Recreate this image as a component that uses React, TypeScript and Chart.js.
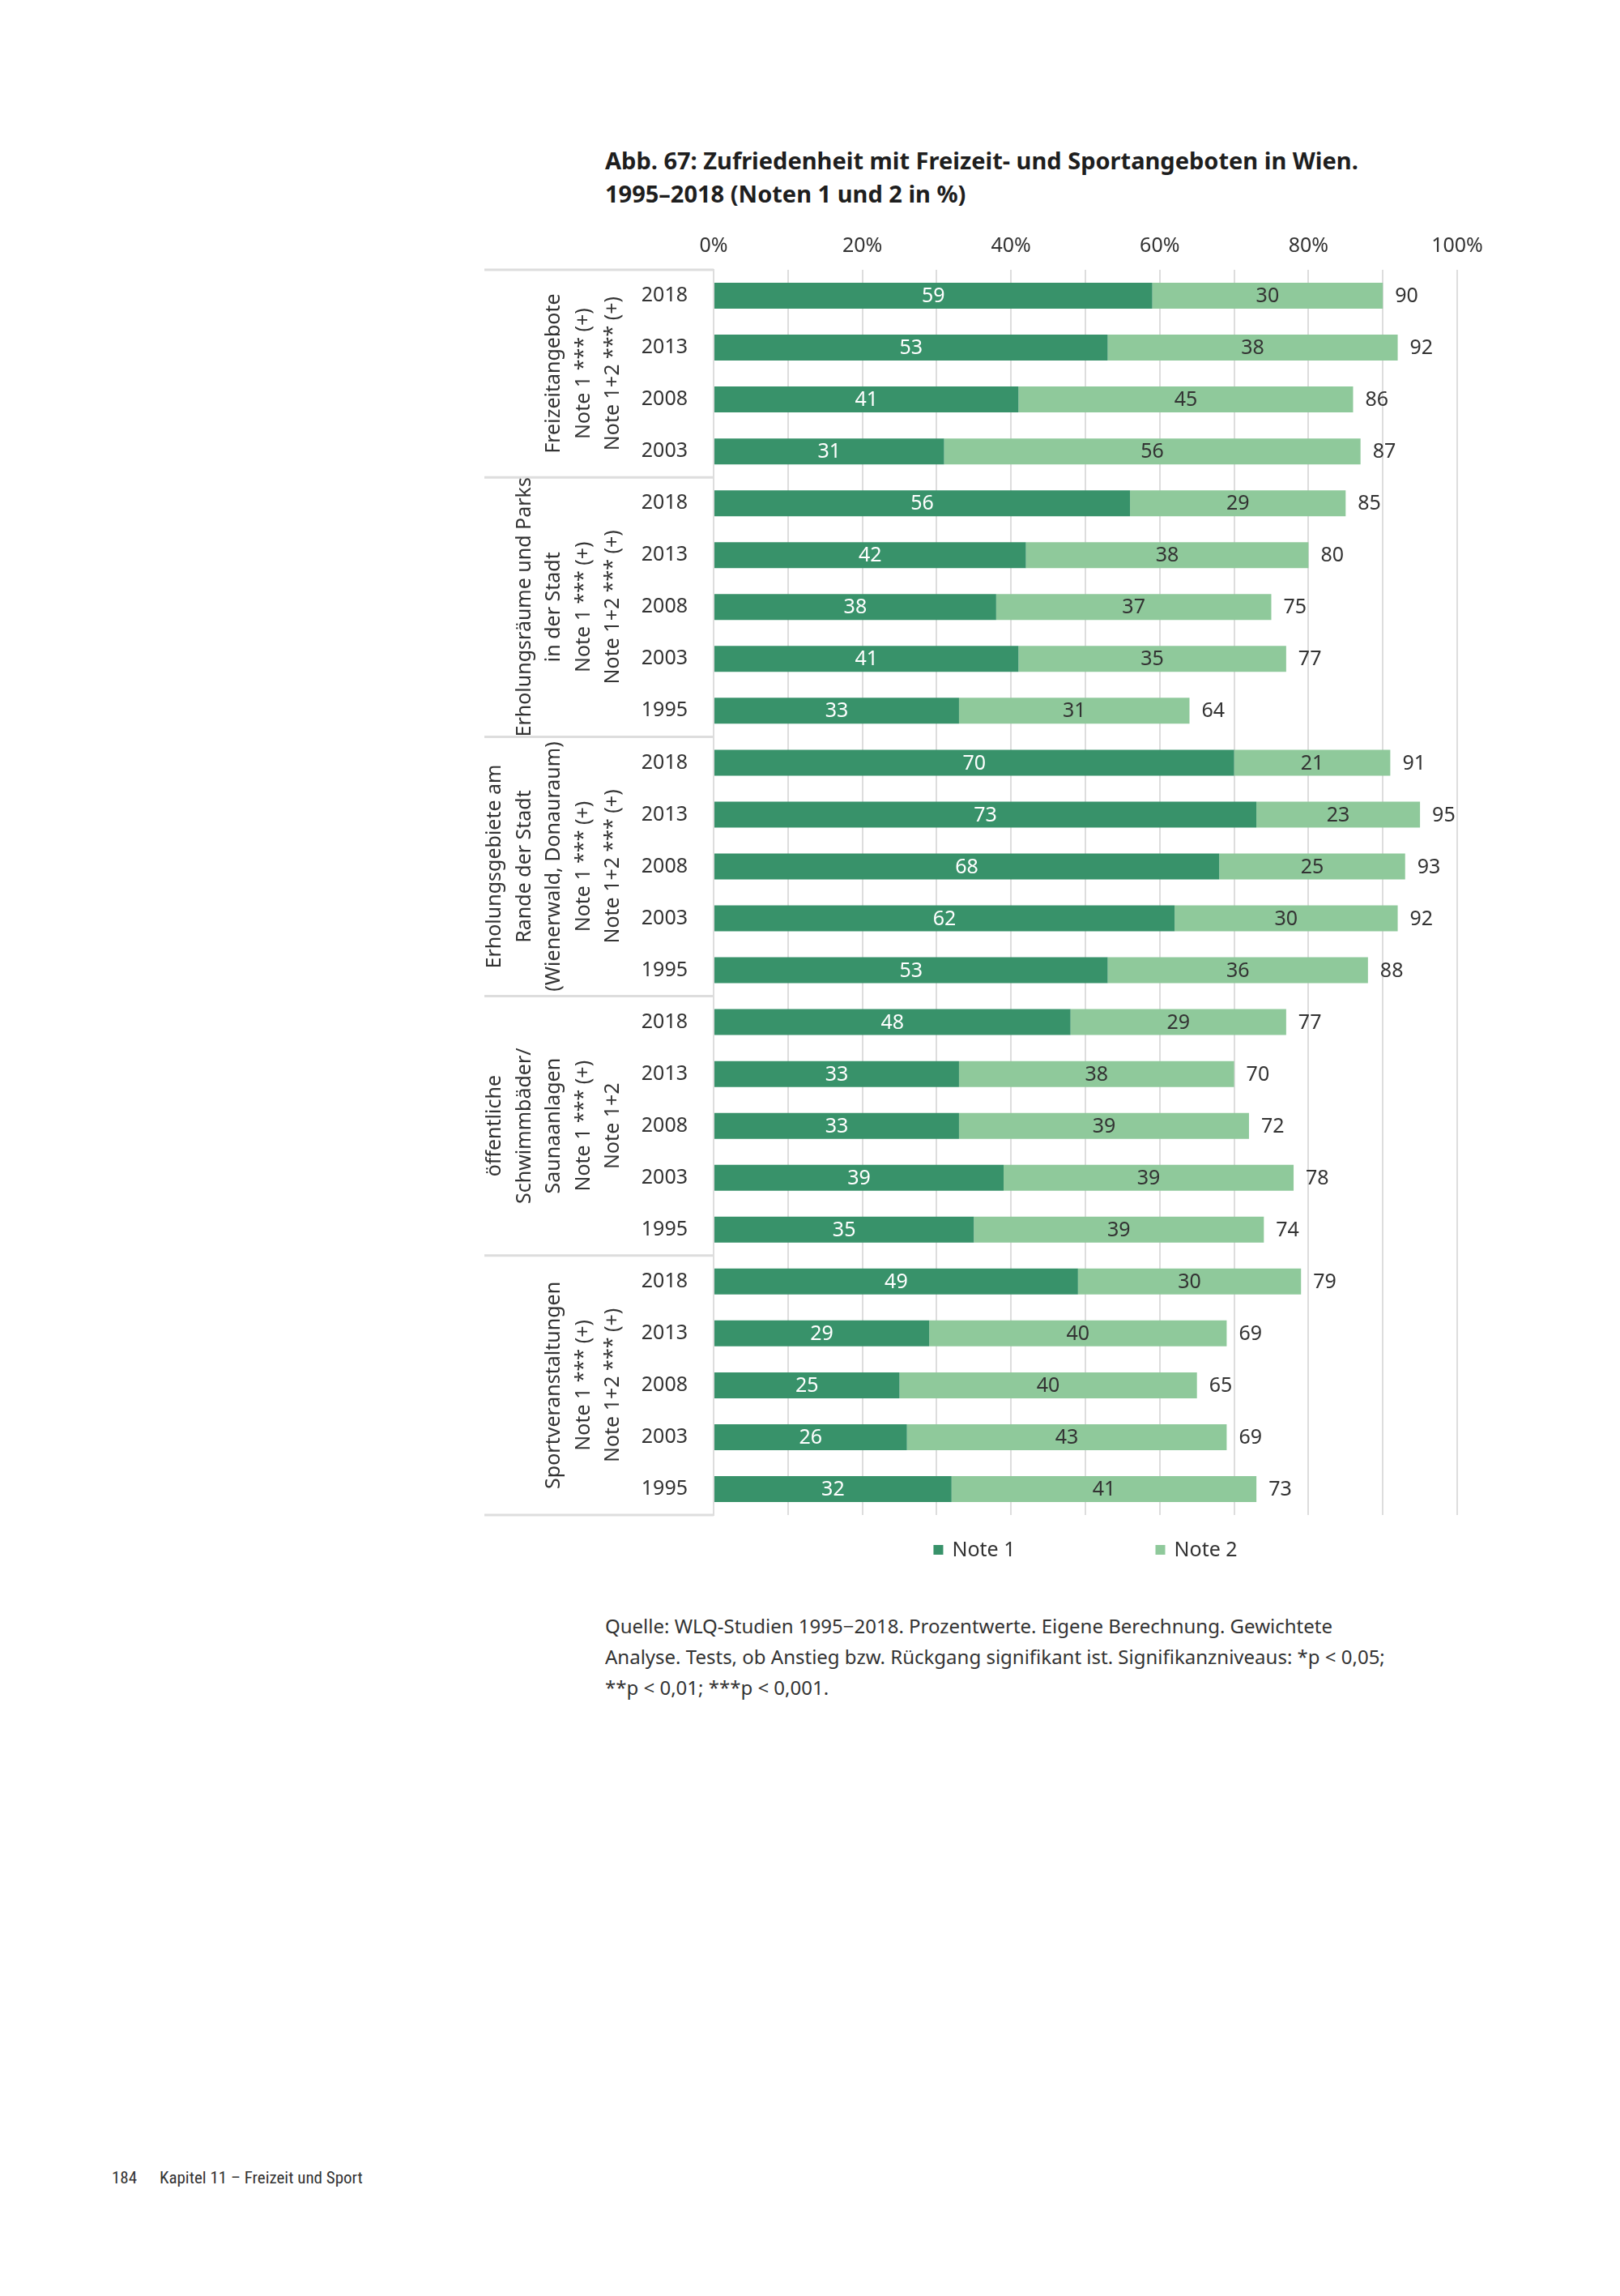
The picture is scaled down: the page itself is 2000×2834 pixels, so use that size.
import React, { useEffect, useRef } from "react";
import { Chart, registerables } from "chart.js";
Chart.register(...registerables);

const FONT = '"Noto Sans", "Open Sans", sans-serif';

const titleLines = [
  "Abb. 67: Zufriedenheit mit Freizeit- und Sportangeboten in Wien.",
  "1995–2018 (Noten 1 und 2 in %)",
];

const sourceLines = [
  "Quelle: WLQ-Studien 1995−2018. Prozentwerte. Eigene Berechnung. Gewichtete",
  "Analyse. Tests, ob Anstieg bzw. Rückgang signifikant ist. Signifikanzniveaus: *p < 0,05;",
  "**p < 0,01; ***p < 0,001.",
];

const footerPage = "184";
const footerChapter = "Kapitel 11 – Freizeit und Sport";

const groupLabels: string[][] = [
  ["Freizeitangebote", "Note 1 *** (+)", "Note 1+2 *** (+)"],
  ["Erholungsräume und Parks", "in der Stadt", "Note 1 *** (+)", "Note 1+2 *** (+)"],
  ["Erholungsgebiete am", "Rande der Stadt", "(Wienerwald, Donauraum)", "Note 1 *** (+)", "Note 1+2 *** (+)"],
  ["öffentliche", "Schwimmbäder/", "Saunaanlagen", "Note 1 *** (+)", "Note 1+2"],
  ["Sportveranstaltungen", "Note 1 *** (+)", "Note 1+2 *** (+)"],
];

const groupSizes = [4, 5, 5, 5, 5];

const years = [
  "2018", "2013", "2008", "2003",
  "2018", "2013", "2008", "2003", "1995",
  "2018", "2013", "2008", "2003", "1995",
  "2018", "2013", "2008", "2003", "1995",
  "2018", "2013", "2008", "2003", "1995",
];

const note1 = [
  59, 53, 41, 31,
  56, 42, 38, 41, 33,
  70, 73, 68, 62, 53,
  48, 33, 33, 39, 35,
  49, 29, 25, 26, 32,
];

const note2 = [
  30, 38, 45, 56,
  29, 38, 37, 35, 31,
  21, 23, 25, 30, 36,
  29, 38, 39, 39, 39,
  30, 40, 40, 43, 41,
];

const totals = [
  90, 92, 86, 87,
  85, 80, 75, 77, 64,
  91, 95, 93, 92, 88,
  77, 70, 72, 78, 74,
  79, 69, 65, 69, 73,
];

const seriesNames = ["Note 1", "Note 2"];
const xTicks = [0, 20, 40, 60, 80, 100];

const C1 = "#38926a";
const C2 = "#8fc99b";
const TEXT = "#333333";
const LINE = "#dddddd";

const tablePlugin = {
  id: "tableAndGroups",
  afterDraw(chart: any) {
    const { ctx, chartArea } = chart;
    const y = chart.scales.y;
    ctx.save();
    const bounds: number[] = [chartArea.top];
    let start = 0;
    groupSizes.forEach((n) => {
      start += n;
      if (start < years.length) {
        bounds.push((y.getPixelForValue(start - 1) + y.getPixelForValue(start)) / 2);
      } else {
        bounds.push(chartArea.bottom);
      }
    });
    ctx.strokeStyle = LINE;
    ctx.lineWidth = 3;
    bounds.forEach((b) => {
      ctx.beginPath();
      ctx.moveTo(8, b);
      ctx.lineTo(chartArea.left, b);
      ctx.stroke();
    });
    ctx.fillStyle = TEXT;
    ctx.font = `25px ${FONT}`;
    ctx.textAlign = "center";
    ctx.textBaseline = "middle";
    groupLabels.forEach((lines, g) => {
      const cy = (bounds[g] + bounds[g + 1]) / 2;
      const n = lines.length;
      lines.forEach((line, j) => {
        const x = 167 - (n - 1 - j) * 36.5;
        ctx.save();
        ctx.translate(x, cy);
        ctx.rotate(-Math.PI / 2);
        ctx.fillText(line, 0, 0);
        ctx.restore();
      });
    });
    ctx.restore();
  },
};

const valueLabelPlugin = {
  id: "valueLabels",
  afterDatasetsDraw(chart: any) {
    const ctx = chart.ctx;
    ctx.save();
    ctx.font = `25px ${FONT}`;
    ctx.textBaseline = "middle";
    chart.data.datasets.forEach((_ds: any, di: number) => {
      const meta = chart.getDatasetMeta(di);
      meta.data.forEach((bar: any, i: number) => {
        const { x, y, base } = bar.getProps(["x", "y", "base"], true);
        ctx.textAlign = "center";
        ctx.fillStyle = di === 0 ? "#ffffff" : TEXT;
        const txt = di === 0 ? note1[i] : note2[i];
        ctx.fillText(String(txt), (x + base) / 2, y + 1);
        if (di === chart.data.datasets.length - 1) {
          ctx.textAlign = "left";
          ctx.fillStyle = TEXT;
          ctx.fillText(String(totals[i]), x + 15, y + 1);
        }
      });
    });
    ctx.restore();
  },
};

const legendPlugin = {
  id: "customLegend",
  afterDraw(chart: any) {
    const { ctx, chartArea } = chart;
    ctx.save();
    ctx.font = `25px ${FONT}`;
    ctx.textBaseline = "middle";
    ctx.textAlign = "left";
    const box = 12;
    const gap = 11;
    const itemGap = 173;
    const widths = seriesNames.map((s) => box + gap + ctx.measureText(s).width);
    const total = widths.reduce((a, b) => a + b, 0) + itemGap * (widths.length - 1);
    let x = (chartArea.left + chartArea.right) / 2 - total / 2;
    const cy = chartArea.bottom + 43;
    seriesNames.forEach((s, i) => {
      ctx.fillStyle = chart.data.datasets[i].backgroundColor;
      ctx.fillRect(x, cy - box / 2, box, box);
      ctx.fillStyle = TEXT;
      ctx.fillText(s, x + box + gap, cy + 1);
      x += widths[i] + itemGap;
    });
    ctx.restore();
  },
};

export default function App() {
  const ref = useRef<HTMLCanvasElement>(null);
  useEffect(() => {
    const canvas = ref.current;
    if (!canvas) return;
    const chart = new Chart(canvas, {
      type: "bar",
      data: {
        labels: years,
        datasets: [
          {
            label: seriesNames[0],
            data: note1,
            backgroundColor: C1,
            barPercentage: 0.5,
            categoryPercentage: 1,
          },
          {
            label: seriesNames[1],
            data: totals.map((t, i) => t - note1[i]),
            backgroundColor: C2,
            barPercentage: 0.5,
            categoryPercentage: 1,
          },
        ],
      },
      options: {
        indexAxis: "y",
        responsive: false,
        animation: false,
        devicePixelRatio: 1,
        layout: { padding: { left: 0, top: 0, right: 51, bottom: 100 } },
        plugins: {
          legend: { display: false },
          tooltip: { enabled: false },
          title: { display: false },
        },
        scales: {
          x: {
            position: "top",
            stacked: true,
            min: 0,
            max: 100,
            ticks: {
              stepSize: 10,
              autoSkip: false,
              padding: 14,
              color: TEXT,
              font: { family: FONT, size: 25 },
              callback: (v: any) => (xTicks.includes(Number(v)) ? `${v}%` : ""),
            },
            grid: { color: LINE, lineWidth: 2, drawTicks: false },
            border: { display: false },
            afterFit: (s: any) => {
              s.height = 63;
            },
          },
          y: {
            stacked: true,
            ticks: {
              autoSkip: false,
              padding: 24,
              color: TEXT,
              font: { family: FONT, size: 25 },
            },
            grid: { display: false },
            border: { display: true, color: LINE, width: 2 },
            afterFit: (s: any) => {
              s.width = 291;
            },
          },
        },
      } as any,
      plugins: [tablePlugin, valueLabelPlugin, legendPlugin],
    });
    return () => chart.destroy();
  }, []);

  return (
    <div
      style={{
        position: "absolute",
        left: 0,
        top: 0,
        width: 2000,
        height: 2834,
        background: "#ffffff",
        overflow: "hidden",
        fontFamily: FONT,
        color: TEXT,
      }}
    >
      <div
        style={{
          position: "absolute",
          left: 747,
          top: 177,
          fontSize: 29,
          fontWeight: 700,
          lineHeight: "41px",
          whiteSpace: "nowrap",
          color: "#1e1e1e",
        }}
      >
        {titleLines[0]}
        <br />
        {titleLines[1]}
      </div>
      <canvas
        ref={ref}
        width={1260}
        height={1700}
        style={{ position: "absolute", left: 590, top: 270, width: 1260, height: 1700 }}
      />
      <div
        style={{
          position: "absolute",
          left: 747,
          top: 1988,
          fontSize: 24,
          lineHeight: "38px",
          whiteSpace: "nowrap",
        }}
      >
        {sourceLines.map((l, i) => (
          <div key={i}>{l}</div>
        ))}
      </div>
      <div
        style={{
          position: "absolute",
          left: 138,
          top: 2675,
          fontSize: 21,
          lineHeight: "26px",
          whiteSpace: "nowrap",
          fontFamily: '"Liberation Sans Narrow", "Roboto Condensed", sans-serif',
          color: "#333",
        }}
      >
        <span>{footerPage}</span>
        <span style={{ position: "absolute", left: 59 }}>{footerChapter}</span>
      </div>
    </div>
  );
}
